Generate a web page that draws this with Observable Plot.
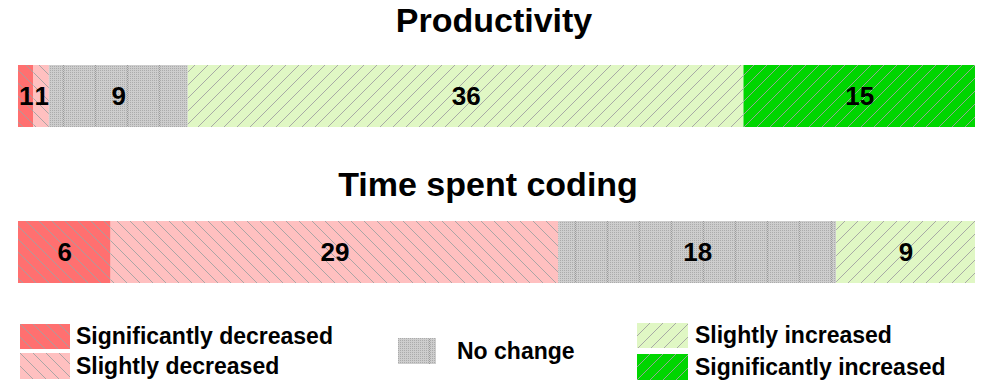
<!DOCTYPE html>
<html>
<head>
<meta charset="utf-8">
<script src="https://cdn.jsdelivr.net/npm/d3@7"></script>
<script src="https://cdn.jsdelivr.net/npm/@observablehq/plot@0.6"></script>
<style>
  html, body { margin: 0; padding: 0; background: #fff; }
  body { width: 996px; height: 384px; overflow: hidden; font-family: "Liberation Sans", Arial, Helvetica, sans-serif; }
  #defs { position: absolute; width: 0; height: 0; }
  #legend { position: relative; width: 996px; height: 84px; }
  .item { position: absolute; display: flex; align-items: center; font-weight: bold; font-size: 23px; color: #000; line-height: 25px; }
  .item svg { display: block; }
</style>
</head>
<body>
<svg id="defs"></svg>
<div id="chart"></div>
<div id="legend"></div>
<script>
const questions = ["Productivity", "Time spent coding"];
const categories = ["Significantly decreased", "Slightly decreased", "No change", "Slightly increased", "Significantly increased"];
const productivity = [1, 1, 9, 36, 15];
const timeSpentCoding = [6, 29, 18, 9, 0];

const colors = ["#ff7070", "#ffc0c0", "#cdcdcd", "#e0f7c4", "#00d600"];
const hatch = ["back", "back", "dots", "fwd", "fwd"];

// pattern definitions
const defs = d3.select("#defs").append("defs");
categories.forEach((c, i) => {
  const id = "pat" + i;
  if (hatch[i] === "dots") {
    const p = defs.append("pattern").attr("id", id).attr("patternUnits", "userSpaceOnUse")
      .attr("width", 32).attr("height", 2);
    p.append("rect").attr("width", 32).attr("height", 2).attr("fill", colors[i]);
    for (let k = 0; k < 16; k++) {
      p.append("rect").attr("x", 2 * k).attr("y", 0).attr("width", 1).attr("height", 1).attr("fill", "#ababab");
    }
    p.append("rect").attr("x", 31).attr("y", 1).attr("width", 1).attr("height", 1).attr("fill", "#9a9a9a");
  } else {
    const s = 13;
    const p = defs.append("pattern").attr("id", id).attr("patternUnits", "userSpaceOnUse")
      .attr("width", s).attr("height", s);
    p.append("rect").attr("width", s).attr("height", s).attr("fill", colors[i]);
    const path = hatch[i] === "back"
      ? `M-1,-1L${s + 1},${s + 1}M${s - 1},-1L${s + 1},1M-1,${s - 1}L1,${s + 1}`
      : `M-1,${s + 1}L${s + 1},-1M-1,1L1,-1M${s - 1},${s + 1}L${s + 1},${s - 1}`;
    p.append("path").attr("d", path).attr("stroke", "#a2a2a2").attr("stroke-width", 0.9).attr("fill", "none");
  }
});
const patUrls = categories.map((c, i) => `url(#pat${i})`);

const data = [];
questions.forEach((q, qi) => {
  const vals = qi === 0 ? productivity : timeSpentCoding;
  categories.forEach((c, ci) => data.push({question: q, category: c, value: vals[ci]}));
});

const chart = Plot.plot({
  width: 996,
  height: 300,
  marginLeft: 18,
  marginRight: 21,
  marginTop: 0,
  marginBottom: 0,
  style: {fontFamily: "'Liberation Sans', Arial, Helvetica, sans-serif", background: "#fff"},
  x: {domain: [0, d3.sum(productivity)], range: [18, 975], axis: null},
  y: {domain: questions, range: [65, 283], paddingInner: 0.6026, paddingOuter: 0, axis: null},
  color: {domain: categories, range: patUrls},
  marks: [
    Plot.barX(data, Plot.stackX({x: "value", y: "question", fill: "category", inset: 0})),
    Plot.text(data, Plot.stackX({x: "value", y: "question", text: d => d.value > 0 ? String(d.value) : "", fontSize: 26, fontWeight: "bold", fill: "#000"})),
    Plot.text([questions[0]], {y: d => d, text: d => d, dy: -75, dx: -3, fontSize: 34, fontWeight: "bold", fill: "#000"}),
    Plot.text([questions[1]], {y: d => d, text: d => d, dy: -67, dx: -9, fontSize: 34, fontWeight: "bold", fill: "#000"})
  ]
});
document.getElementById("chart").appendChild(chart);

// legend
const legend = d3.select("#legend");
const layout = [
  {left: 20, top: 24, w: 50, h: 25, gap: 6},
  {left: 20, top: 53, w: 50, h: 26, gap: 6},
  {left: 398, top: 38, w: 38, h: 26, gap: 21},
  {left: 637, top: 23, w: 51, h: 25, gap: 7},
  {left: 637, top: 54, w: 51, h: 26, gap: 7}
];
categories.forEach((c, i) => {
  const L = layout[i];
  const item = legend.append("div").attr("class", "item")
    .style("left", L.left + "px").style("top", L.top + "px").style("height", L.h + "px");
  const sw = item.append("svg").attr("width", L.w).attr("height", L.h)
    .style("margin-right", L.gap + "px");
  sw.append("rect").attr("width", L.w).attr("height", L.h).attr("fill", patUrls[i]);
  item.append("span").text(c);
});
</script>
</body>
</html>
